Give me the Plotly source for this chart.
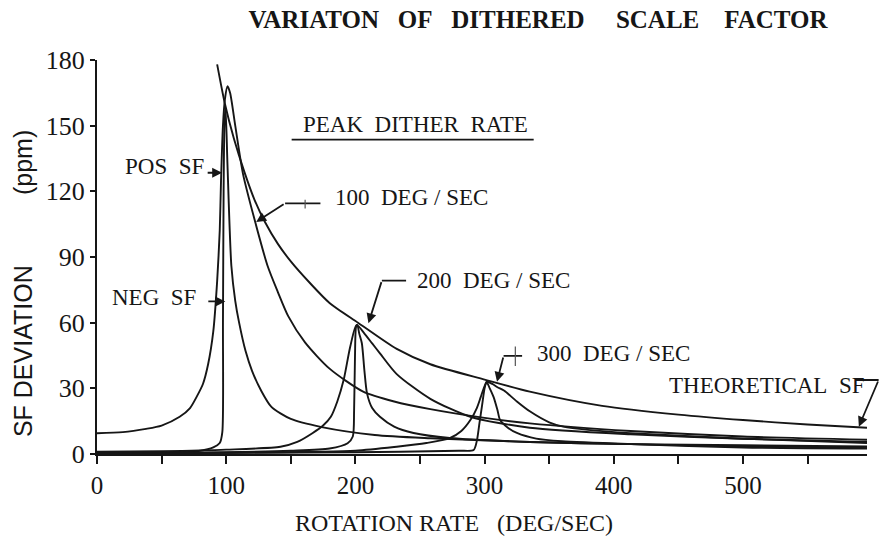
import plotly.graph_objects as go

# ---------------- data ----------------
theo_x = [93, 99, 106, 114, 122, 130, 140, 150, 165, 180, 202, 232, 258, 300, 335, 391, 450, 500, 550, 596]
theo_y = [178, 160, 144, 129, 116, 106, 96, 88, 78, 69, 60, 48, 41, 34, 28.5, 22, 18, 15.5, 13.5, 12]

pos100_x = [0, 20, 38, 50, 64, 72, 77, 82, 86, 90, 93, 95, 96, 97.5, 99, 101, 103, 107, 113, 122, 132, 140, 148, 161, 180, 206, 230, 258, 300, 335, 413, 500, 596]
pos100_y = [9.5, 10, 11.5, 13, 17, 21, 26, 32, 41, 56, 79, 102, 125, 150, 162, 168, 165, 150, 128, 107, 86, 74, 63, 51, 39, 28.5, 24, 20.5, 16.5, 14, 10.5, 8, 6.5]

neg100_x = [0, 50, 80, 90, 95, 97, 97.5, 98, 98.7, 99.5, 101, 104, 107, 110, 115, 120, 127, 135, 150, 174, 215, 258, 335, 413, 500, 596]
neg100_y = [0.5, 0.8, 1.5, 3, 5, 10, 60, 120, 152, 158, 132, 86, 70, 60, 47, 38, 29, 21.5, 16, 12.3, 8.7, 7.2, 5.5, 4.5, 4, 3.5]

pos200_x = [0, 50, 100, 142, 155, 167, 175, 181, 186, 191, 196, 201, 207, 213, 219, 232, 258, 289, 335, 413, 500, 596]
pos200_y = [1, 1.3, 2, 3.3, 5.5, 9.6, 13, 17, 24, 34, 49, 59, 55, 50.5, 46, 36.5, 25.2, 17, 12, 9, 7, 5.5]

neg200_x = [0, 100, 150, 180, 194, 198, 199, 199.7, 200.5, 201.5, 203, 205, 207, 209, 213, 219, 230, 245, 273, 335, 413, 500, 596]
neg200_y = [0.3, 0.8, 1.5, 2.5, 4.9, 8, 20, 45, 58, 59, 55, 50.6, 38, 27.7, 21, 17, 12.5, 9.6, 7.3, 5.5, 4.5, 3.5, 3]

pos300_x = [0, 100, 200, 232, 255, 273, 282, 289, 294, 297, 300, 302, 306, 310, 315, 325, 335, 350, 361, 380, 413, 500, 596]
pos300_y = [0.3, 0.6, 1.5, 3.3, 5, 7.2, 10.5, 15.5, 21, 26, 31, 33, 32, 30.5, 29, 24, 19.5, 14.5, 12.5, 11, 9.5, 7, 5]

neg300_x = [0, 200, 280, 291.5, 294, 296, 298, 300, 301.5, 304, 307, 310, 312, 318, 325, 340, 360, 413, 500, 596]
neg300_y = [0.2, 0.8, 1.5, 1.8, 6, 14, 22, 30, 33, 30, 26, 20, 15.5, 12, 9.6, 7, 5.8, 4.5, 3, 2.5]

x_tickvals = [0, 50, 100, 150, 200, 250, 300, 350, 400, 450, 500, 550]
x_ticktext = ["0", "", "100", "", "200", "", "300", "", "400", "", "500", ""]
y_tickvals = [0, 30, 60, 90, 120, 150, 180]

# ---------------- figure ----------------
SERIF = "Liberation Serif"
SANS = "Liberation Sans"
INK = "#161616"
NB = "\u00a0"

fig = go.Figure()
series = [
    ("THEORETICAL SF", theo_x, theo_y),
    ("POS SF 100", pos100_x, pos100_y),
    ("NEG SF 100", neg100_x, neg100_y),
    ("POS SF 200", pos200_x, pos200_y),
    ("NEG SF 200", neg200_x, neg200_y),
    ("POS SF 300", pos300_x, pos300_y),
    ("NEG SF 300", neg300_x, neg300_y),
]
for name, xs, ys in series:
    fig.add_trace(go.Scatter(
        x=xs, y=ys, mode="lines", name=name,
        line=dict(color=INK, width=1.9, shape="spline", smoothing=0.7),
        showlegend=False, hoverinfo="skip",
    ))

annotations = []

def text(t, x, y, xanchor="left", size=23):
    annotations.append(dict(text=t, x=x, y=y, xref="x", yref="y", xanchor=xanchor,
                            yanchor="middle", showarrow=False,
                            font=dict(family=SERIF, size=size, color=INK)))

def seg(x0, y0, x1, y1, head=0, width=1.8, color=INK):
    annotations.append(dict(text="", x=x1, y=y1, ax=x0, ay=y0, xref="x", yref="y",
                            axref="x", ayref="y", showarrow=True, arrowhead=head,
                            arrowsize=1.1, arrowwidth=width, arrowcolor=color,
                            standoff=0, startstandoff=0))

text("PEAK" + NB * 2 + "DITHER" + NB * 2 + "RATE", 158, 150.5)
seg(149.5, 143.6, 338, 143.6)

text("POS" + NB * 2 + "SF", 84, 131.5, xanchor="right")
seg(84.5, 128.5, 96.8, 128.5, head=2)

text("NEG" + NB * 2 + "SF", 78, 71.5, xanchor="right")
seg(85, 69.7, 99.3, 69.7, head=2)

text("100" + NB * 2 + "DEG / SEC", 182.8, 117)
seg(174.1, 114.5, 145.6, 114.5)
seg(145.6, 114.5, 123.2, 106, head=2)
seg(161.1, 116.8, 161.1, 112.2, width=1.2, color="#555555")

text("200" + NB * 2 + "DEG / SEC", 246.3, 79.3)
seg(240.4, 79.2, 220.5, 79.2)
seg(220.5, 79.2, 210.1, 59.7, head=2)

text("300" + NB * 2 + "DEG / SEC", 339.3, 46.1)
seg(330.2, 44.8, 314.7, 44.8)
seg(314.7, 44.8, 309.6, 33, head=2)
seg(323.8, 49.8, 323.8, 40.2, width=1.2, color="#555555")

text("THEORETICAL" + NB * 2 + "SF", 595.7, 31.2, xanchor="right")
seg(585.6, 33.8, 605, 33.8)
seg(605, 33.8, 589.7, 12.5, head=2)

# axis titles
annotations.append(dict(text="ROTATION RATE" + NB * 3 + "(DEG/SEC)", x=0.4636, y=-0.175,
                        xref="paper", yref="paper", xanchor="center", yanchor="middle",
                        showarrow=False, font=dict(family=SERIF, size=24, color=INK)))
annotations.append(dict(text="SF DEVIATION", x=-0.096, y=(454 - 351) / 394,
                        xref="paper", yref="paper", xanchor="center", yanchor="middle",
                        textangle=-90, showarrow=False,
                        font=dict(family=SANS, size=25, color=INK)))
annotations.append(dict(text="(ppm)", x=-0.096, y=(454 - 163) / 394,
                        xref="paper", yref="paper", xanchor="center", yanchor="middle",
                        textangle=-90, showarrow=False,
                        font=dict(family=SANS, size=25, color=INK)))

fig.update_layout(
    width=881, height=551,
    margin=dict(l=97, r=14, t=60, b=97),
    paper_bgcolor="white", plot_bgcolor="white",
    title=dict(text="<b>VARIATON" + NB * 3 + "OF" + NB * 3 + "DITHERED" + NB * 5 + "SCALE" + NB * 4 + "FACTOR</b>",
               x=(538 - 97) / 770, xref="paper", xanchor="center",
               y=1 - 19 / 551, yref="container", yanchor="middle",
               font=dict(family=SERIF, size=25, color=INK)),
    annotations=annotations,
    xaxis=dict(range=[0, 596], tickmode="array", tickvals=x_tickvals, ticktext=x_ticktext,
               showgrid=False, zeroline=False, showline=True, linecolor=INK, linewidth=2,
               ticks="outside", ticklen=8, tickwidth=1.6, tickcolor=INK,
               tickfont=dict(family=SERIF, size=25, color=INK)),
    yaxis=dict(range=[0, 180], tickmode="array", tickvals=y_tickvals,
               showgrid=False, zeroline=False, showline=True, linecolor=INK, linewidth=2,
               ticks="outside", ticklen=5, tickwidth=1.6, tickcolor=INK,
               tickfont=dict(family=SERIF, size=26, color=INK)),
)

fig.write_html("out.html", config={"displayModeBar": False},
               post_script="document.body.style.margin='0';document.body.style.overflow='hidden';")
